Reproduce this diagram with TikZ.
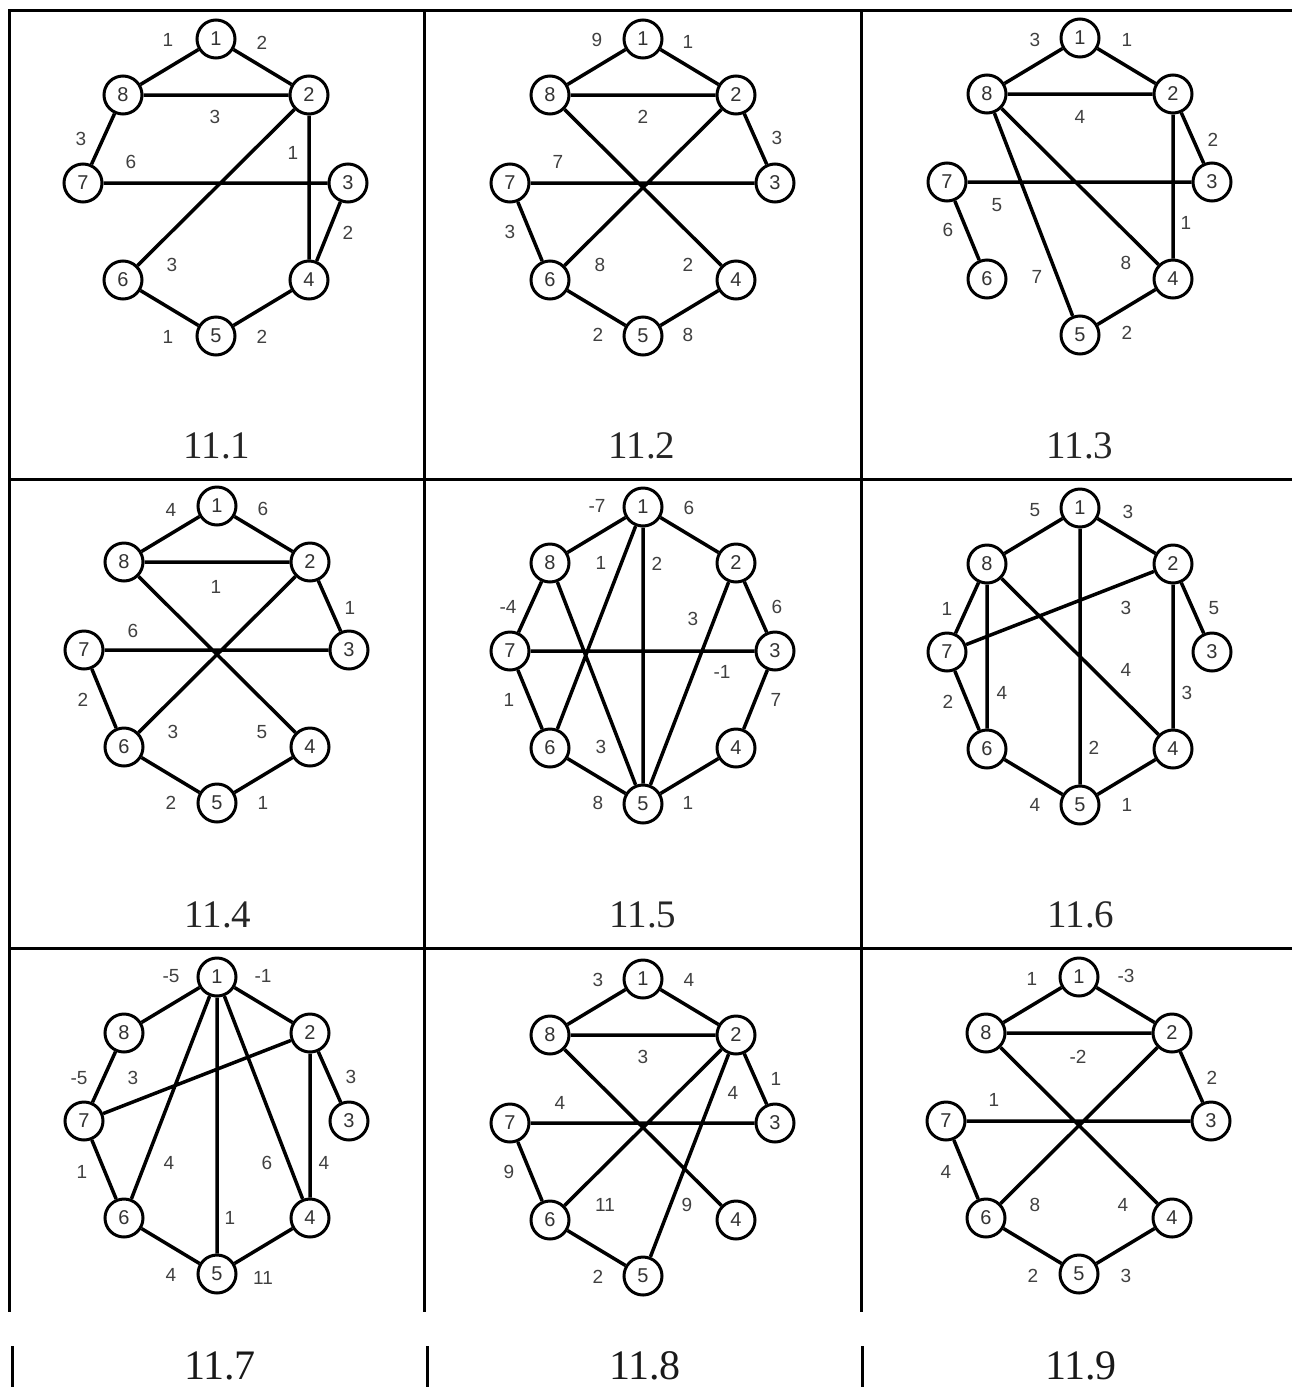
\documentclass[tikz,border=0pt]{standalone}
\usepackage{fontspec}
\setmainfont{Liberation Serif}
\newfontfamily\lblfont{Liberation Sans}
\newcommand\octnodes[1]{%
  \node[vx] (#1-1) at (0,0) {1};
  \node[vx] (#1-2) at (93,56) {2};
  \node[vx] (#1-3) at (132,144) {3};
  \node[vx] (#1-4) at (93,241) {4};
  \node[vx] (#1-5) at (0,297) {5};
  \node[vx] (#1-6) at (-93,241) {6};
  \node[vx] (#1-7) at (-133,144) {7};
  \node[vx] (#1-8) at (-93,56) {8};
}
\begin{document}
\begin{tikzpicture}[x=1pt,y=-1pt,
  vx/.style={circle,draw,line width=3pt,minimum size=38pt,inner sep=0pt,fill=white,
    font=\lblfont\fontsize{20}{20}\selectfont,text=black!80},
  ed/.style={line width=3.5pt},
  wt/.style={font=\lblfont\fontsize{19}{19}\selectfont,text=black!75,inner sep=0pt},
  captext/.style={font=\fontsize{39}{39}\selectfont,text=black!85,inner sep=0pt},
  captextb/.style={font=\fontsize{42}{42}\selectfont,text=black!90,inner sep=0pt},
  gridline/.style={line width=3pt}]
\useasboundingbox (0,0) rectangle (1292,1387);
% grid
\coordinate (h1l) at (8,10);   \coordinate (h1r) at (1292,10);
\coordinate (h2l) at (8,479);  \coordinate (h2r) at (1292,479);
\coordinate (h3l) at (8,948);  \coordinate (h3r) at (1292,948);
\coordinate (v1t) at (9,9);    \coordinate (v1b) at (9,1312);
\coordinate (v2t) at (424,9);  \coordinate (v2b) at (424,1312);
\coordinate (v3t) at (861,9);  \coordinate (v3b) at (861,1312);
\coordinate (s1t) at (12,1346);  \coordinate (s1b) at (12,1387);
\coordinate (s2t) at (427,1346); \coordinate (s2b) at (427,1387);
\coordinate (s3t) at (862,1346); \coordinate (s3b) at (862,1387);
\draw[gridline] (h1l) -- (h1r) (h2l) -- (h2r) (h3l) -- (h3r)
  (v1t) -- (v1b) (v2t) -- (v2b) (v3t) -- (v3b)
  (s1t) -- (s1b) (s2t) -- (s2b) (s3t) -- (s3b);
% captions
\node[captext] (c1) at (217,446) {11.1};
\node[captext] (c2) at (642,446) {11.2};
\node[captext] (c3) at (1080,446) {11.3};
\node[captext] (c4) at (218,915) {11.4};
\node[captext] (c5) at (643,915) {11.5};
\node[captext] (c6) at (1081,915) {11.6};
\node[captextb] (c7) at (220,1366) {11.7};
\node[captextb] (c8) at (645,1366) {11.8};
\node[captextb] (c9) at (1081,1366) {11.9};

% 11.1
\begin{scope}[shift={(216,39)}]
\octnodes{a}
\draw[ed] (a-1)--(a-8) (a-1)--(a-2) (a-8)--(a-2) (a-8)--(a-7) (a-7)--(a-3)
  (a-2)--(a-6) (a-2)--(a-4) (a-3)--(a-4) (a-6)--(a-5) (a-5)--(a-4);
\foreach \x/\y/\t [count=\i] in {-48/1/1, 46/4/2, -1/78/3, -135/100/3, -85/123/6,
  -44/226/3, 77/114/1, 132/194/2, -48/298/1, 46/298/2}
  \node[wt] (aw\i) at (\x,\y) {\t};
\end{scope}

% 11.2
\begin{scope}[shift={(643,39)}]
\octnodes{b}
\draw[ed] (b-1)--(b-8) (b-1)--(b-2) (b-8)--(b-2) (b-2)--(b-3) (b-8)--(b-4)
  (b-2)--(b-6) (b-7)--(b-3) (b-7)--(b-6) (b-6)--(b-5) (b-5)--(b-4);
\foreach \x/\y/\t [count=\i] in {-46/1/9, 45/3/1, 0/78/2, 134/99/3, -85/123/7,
  -133/193/3, -43/226/8, 45/226/2, -45/296/2, 45/296/8}
  \node[wt] (bw\i) at (\x,\y) {\t};
\end{scope}

% 11.3
\begin{scope}[shift={(1080,38)}]
\octnodes{c}
\draw[ed] (c-1)--(c-8) (c-1)--(c-2) (c-8)--(c-2) (c-2)--(c-3) (c-2)--(c-4)
  (c-7)--(c-3) (c-7)--(c-6) (c-8)--(c-5) (c-8)--(c-4) (c-5)--(c-4);
\foreach \x/\y/\t [count=\i] in {-45/2/3, 47/2/1, 0/79/4, 133/102/2, 106/185/1,
  -83/167/5, -132/192/6, -43/239/7, 46/225/8, 47/295/2}
  \node[wt] (cw\i) at (\x,\y) {\t};
\end{scope}

% 11.4
\begin{scope}[shift={(217,506)}]
\octnodes{d}
\draw[ed] (d-1)--(d-8) (d-1)--(d-2) (d-8)--(d-2) (d-2)--(d-3) (d-7)--(d-3)
  (d-7)--(d-6) (d-2)--(d-6) (d-8)--(d-4) (d-6)--(d-5) (d-5)--(d-4);
\foreach \x/\y/\t [count=\i] in {-46/4/4, 46/3/6, -1/81/1, 133/102/1, -84/125/6,
  -134/194/2, -44/226/3, 45/226/5, -46/297/2, 46/297/1}
  \node[wt] (dw\i) at (\x,\y) {\t};
\end{scope}

% 11.5
\begin{scope}[shift={(643,507)}]
\octnodes{e}
\draw[ed] (e-1)--(e-8) (e-1)--(e-2) (e-1)--(e-6) (e-1)--(e-5) (e-8)--(e-7)
  (e-8)--(e-5) (e-2)--(e-3) (e-2)--(e-5) (e-7)--(e-3) (e-7)--(e-6)
  (e-3)--(e-4) (e-6)--(e-5) (e-5)--(e-4);
\foreach \x/\y/\t [count=\i] in {-46/-1/-7, 46/1/6, -42/56/1, 14/57/2, 134/100/6,
  50/112/3, -135/100/-4, 79/165/-1, 133/193/7, -134/193/1, -42/240/3,
  -45/296/8, 45/296/1}
  \node[wt] (ew\i) at (\x,\y) {\t};
\end{scope}

% 11.6
\begin{scope}[shift={(1080,508)}]
\octnodes{f}
\draw[ed] (f-1)--(f-8) (f-1)--(f-2) (f-1)--(f-5) (f-8)--(f-7) (f-8)--(f-6)
  (f-8)--(f-4) (f-2)--(f-7) (f-2)--(f-3) (f-2)--(f-4) (f-7)--(f-6)
  (f-6)--(f-5) (f-5)--(f-4);
\foreach \x/\y/\t [count=\i] in {-45/2/5, 48/4/3, 14/240/2, -133/101/1, -78/185/4,
  46/162/4, 46/100/3, 134/100/5, 107/185/3, -132/194/2, -45/297/4, 47/297/1}
  \node[wt] (fw\i) at (\x,\y) {\t};
\end{scope}

% 11.7
\begin{scope}[shift={(217,977)}]
\octnodes{g}
\draw[ed] (g-1)--(g-8) (g-1)--(g-2) (g-1)--(g-6) (g-1)--(g-5) (g-1)--(g-4)
  (g-8)--(g-7) (g-2)--(g-7) (g-2)--(g-3) (g-2)--(g-4) (g-7)--(g-6)
  (g-6)--(g-5) (g-5)--(g-4);
\foreach \x/\y/\t [count=\i] in {-46/-1/-5, 46/-1/-1, -138/101/-5, -84/101/3,
  134/100/3, -48/186/4, 50/186/6, 107/186/4, -135/195/1, 13/241/1,
  -46/298/4, 46/301/11}
  \node[wt] (gw\i) at (\x,\y) {\t};
\end{scope}

% 11.8
\begin{scope}[shift={(643,979)}]
\octnodes{h}
\draw[ed] (h-1)--(h-8) (h-1)--(h-2) (h-8)--(h-2) (h-2)--(h-3) (h-2)--(h-5)
  (h-7)--(h-3) (h-7)--(h-6) (h-2)--(h-6) (h-8)--(h-4) (h-6)--(h-5);
\foreach \x/\y/\t [count=\i] in {-45/1/3, 46/1/4, 0/78/3, 133/100/1, 90/114/4,
  -83/124/4, -134/193/9, -38/226/11, 44/226/9, -45/298/2}
  \node[wt] (hw\i) at (\x,\y) {\t};
\end{scope}

% 11.9
\begin{scope}[shift={(1079,977)}]
\octnodes{k}
\draw[ed] (k-1)--(k-8) (k-1)--(k-2) (k-8)--(k-2) (k-2)--(k-3) (k-7)--(k-3)
  (k-7)--(k-6) (k-2)--(k-6) (k-8)--(k-4) (k-6)--(k-5) (k-5)--(k-4);
\foreach \x/\y/\t [count=\i] in {-47/2/1, 47/-1/-3, -1/80/-2, 133/101/2, -85/123/1,
  -133/195/4, -44/228/8, 44/228/4, -46/299/2, 47/299/3}
  \node[wt] (kw\i) at (\x,\y) {\t};
\end{scope}
\end{tikzpicture}
\end{document}
